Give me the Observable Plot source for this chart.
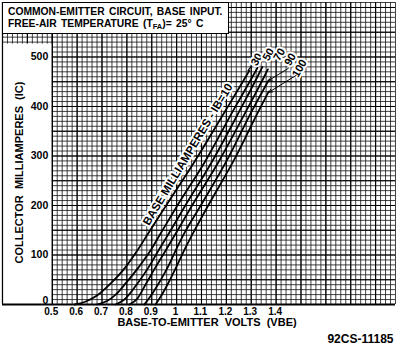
<!DOCTYPE html>
<html><head><meta charset="utf-8">
<script src="https://cdn.jsdelivr.net/npm/d3@7"></script>
<script src="https://cdn.jsdelivr.net/npm/@observablehq/plot@0.6"></script>
<style>
body{margin:0;background:#fff;}
#wrap{position:relative;width:397px;height:350px;}
#title{position:absolute;left:2px;top:2px;width:227px;height:32px;box-sizing:border-box;background:#fff;border:1.5px solid #000;font:bold 10.3px "Liberation Sans",Arial,sans-serif;line-height:12px;padding:3px 0 0 5px;white-space:nowrap;color:#000;word-spacing:1.5px;}
#title .s{font-size:7.5px;position:relative;top:2px;}
</style></head><body><div id="wrap"><div id="title">COMMON-EMITTER CIRCUIT, BASE INPUT.<br>FREE-AIR TEMPERATURE (T<span class="s">FA</span>)= 25° C</div></div>
<script>
// Base current levels (mA)
const ibLevels = [10, 30, 50, 70, 90, 100];
// Curves: base-to-emitter volts and collector milliamperes
const vbe10  = [0.59, 0.63, 0.68, 0.734, 0.794, 0.842, 0.885, 0.958, 1.075, 1.198, 1.278, 1.292];
const ic10   = [0,    5,    18,   42,    75,    109,   143,   200,   291,   393,   460,   472];
const vbe30  = [0.68, 0.72, 0.755, 0.794, 0.847, 0.895, 0.935, 1.003, 1.117, 1.229, 1.305, 1.325];
const ic30   = [0,    7,    20,    42,    75,    109,   143,   200,   291,   393,   460,   478];
const vbe50  = [0.755, 0.79, 0.842, 0.887, 0.927, 0.968, 1.035, 1.145, 1.255, 1.325, 1.345];
const ic50   = [0,     10,   42,    75,    109,   143,   200,   291,   393,   460,   480];
const vbe70  = [0.81, 0.842, 0.877, 0.915, 0.956, 0.996, 1.062, 1.172, 1.282, 1.352, 1.367];
const ic70   = [0,    12,    42,    75,    109,   143,   200,   291,   393,   460,   475];
const vbe90  = [0.87, 0.89, 0.927, 0.964, 0.996, 1.03, 1.097, 1.202, 1.305, 1.37];
const ic90   = [0,    13,   42,    75,    109,   143,  200,   291,   393,   453];
const vbe100 = [0.915, 0.935, 0.965, 0.998, 1.03, 1.065, 1.127, 1.23, 1.332, 1.37];
const ic100  = [0,     15,    42,    75,    109,  143,   200,   291,  393,   430];

const xTicks = [0.5, 0.6, 0.7, 0.8, 0.9, 1, 1.1, 1.2, 1.3, 1.4];
const xTickLabels = ["0.5","0.6","0.7","0.8","0.9","1","1.1","1.2","1.3","1.4"];
const yTicks = [0, 100, 200, 300, 400, 500];
const yTickLabels = ["0","100","200","300","400","500"];

// Curve-level labels near the top ends
const levelLabels = ["30", "50", "70", "90", "100"];
const levelLabelX = [1.322, 1.369, 1.413, 1.457, 1.494];
const levelLabelY = [495, 505, 505, 495, 477];

const curveSets = [[vbe10, ic10], [vbe30, ic30], [vbe50, ic50], [vbe70, ic70], [vbe90, ic90], [vbe100, ic100]];
const table = [];
curveSets.forEach(([vs, is], k) => vs.forEach((v, j) => table.push({ib: ibLevels[k], v, i: is[j]})));

// graph-paper grid
const xMinor = d3.range(0, 80).map(k => +(0.3 + k * 0.02).toFixed(2));
const xMajor = xMinor.filter(v => Math.round(v * 100) % 10 === 0);
const yMinor = d3.range(0, 62).map(k => k * 10);
const yMajor = yMinor.filter(v => v % 50 === 0);

const font = "Liberation Sans, Arial, sans-serif";
const labels = levelLabels.map((t, k) => ({t, x: levelLabelX[k], y: levelLabelY[k]}));
const leaders = [
  {x1: 1.449, y1: 477, x2: 1.372, y2: 453},
  {x1: 1.481, y1: 463, x2: 1.372, y2: 429}
];
const dashes = [{x1: 1.300, y1: 481, x2: 1.286, y2: 472}];

const chart = Plot.plot({
  width: 397, height: 350,
  marginLeft: 2, marginRight: 2, marginTop: 2, marginBottom: 46,
  x: {domain: [0.3, 1.88], axis: null},
  y: {domain: [0, 610], axis: null},
  style: {fontFamily: font, background: "white", color: "black"},
  marks: [
    Plot.ruleX(xMinor, {stroke: "#111", strokeWidth: 0.8}),
    Plot.ruleY(yMinor, {stroke: "#111", strokeWidth: 0.8}),
    Plot.ruleX(xMajor, {stroke: "#000", strokeWidth: 1.1}),
    Plot.ruleY(yMajor, {stroke: "#000", strokeWidth: 1.1}),
    Plot.rect([0], {x1: () => 0.3, x2: () => 0.5, y1: () => 0, y2: () => 526, fill: "white"}),
    Plot.ruleX([0.3, 0.5], {stroke: "#000", strokeWidth: 1.2}),
    Plot.ruleY([0], {stroke: "#000", strokeWidth: 1.8}),
    Plot.text([0], {x: () => 1.045, y: () => 303, text: () => "BASE MILLIAMPERES - IB=10", rotate: -59,
      fontSize: 11.5, fontWeight: "bold", fill: "black", stroke: "white", strokeWidth: 4}),
    Plot.text(labels, {x: "x", y: "y", text: "t", rotate: -60, fontSize: 11, fontWeight: "bold",
      fill: "black", stroke: "white", strokeWidth: 4}),
    Plot.line(table, {x: "v", y: "i", z: "ib", stroke: "black", strokeWidth: 1.8, curve: "monotone-x"}),
    Plot.arrow(leaders, {x1: "x1", y1: "y1", x2: "x2", y2: "y2", stroke: "black", strokeWidth: 1, headLength: 5}),
    Plot.link(dashes, {x1: "x1", y1: "y1", x2: "x2", y2: "y2", stroke: "black", strokeWidth: 1.2}),
    Plot.text(yTicks.filter(d => d > 0), {x: () => 0.5, y: d => d, text: d => yTickLabels[yTicks.indexOf(d)], textAnchor: "end", dx: -4,
      fontSize: 10.5, fontWeight: "bold"}),
    Plot.text(yTicks.filter(d => d === 0), {x: () => 0.5, y: d => d, text: d => yTickLabels[yTicks.indexOf(d)], textAnchor: "end", lineAnchor: "bottom", dx: -4, dy: -1,
      fontSize: 10.5, fontWeight: "bold"}),
    Plot.text(xTicks, {x: d => d, y: () => 0, text: (d, i) => xTickLabels[i], lineAnchor: "top", dy: 3, dx: -1,
      fontSize: 10, fontWeight: "bold"}),
    Plot.text(["COLLECTOR  MILLIAMPERES  (IC)"], {frameAnchor: "left", text: d => d, rotate: -90, textAnchor: "middle", dx: 17, dy: 19,
      fontSize: 11, fontWeight: "bold"}),
    Plot.text(["BASE-TO-EMITTER  VOLTS  (VBE)"], {frameAnchor: "bottom", text: d => d, dx: 8, dy: 21,
      fontSize: 11, fontWeight: "bold"}),
    Plot.text(["92CS-11185"], {frameAnchor: "bottom-right", text: d => d, textAnchor: "end", dx: -2, dy: 38,
      fontSize: 12, fontWeight: "bold"})
  ]
});
document.getElementById("wrap").prepend(chart);
</script>
</body></html>
